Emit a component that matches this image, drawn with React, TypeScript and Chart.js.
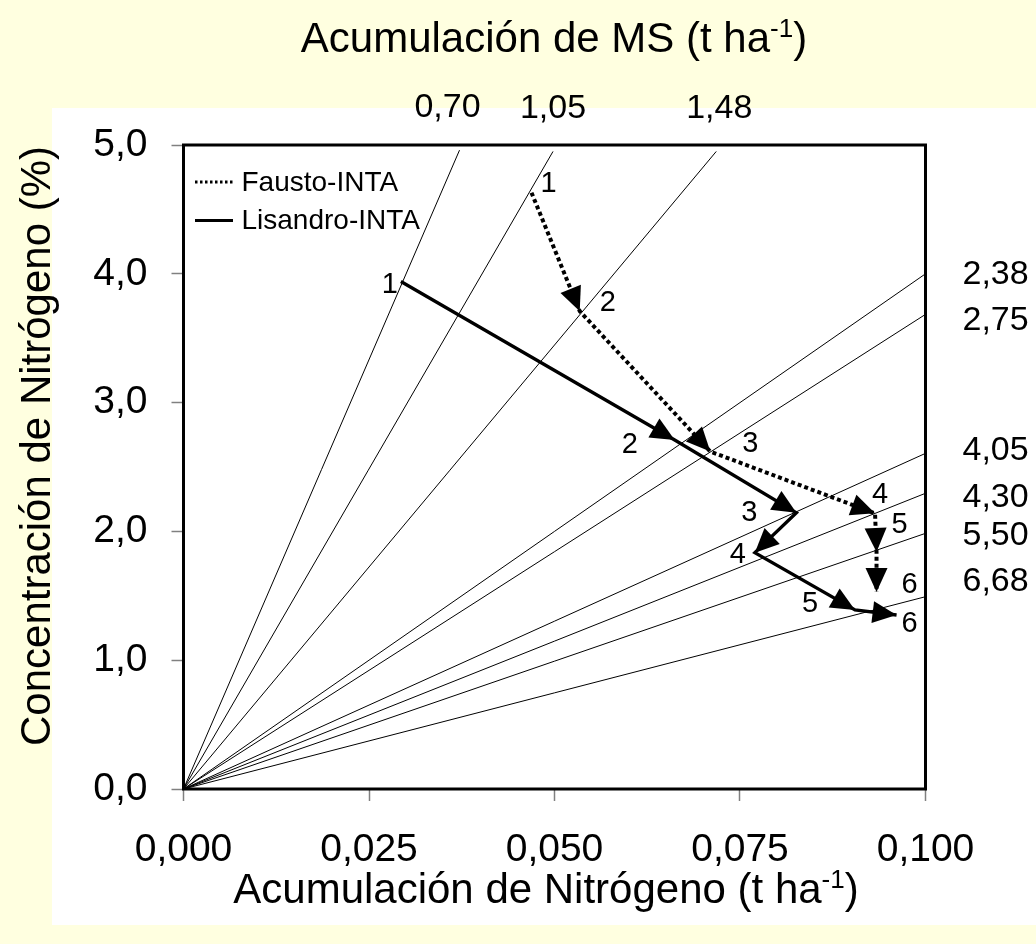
import React, { useEffect, useRef } from 'react';
import { Chart, registerables } from 'chart.js';

Chart.register(...registerables);

const FONT = '"Liberation Sans", Arial, sans-serif';

// Axis ticks
const xTicks = [0, 0.025, 0.05, 0.075, 0.1];
const yTicks = [0, 1, 2, 3, 4, 5];

// Dry-matter (MS) isolines, drawn from the origin to their end point
const msLabels = ['0,70', '1,05', '1,48', '2,38', '2,75', '4,05', '4,30', '5,50', '6,68'];
const msLineEndX = [0.0372, 0.0498, 0.0718, 0.1, 0.1, 0.1, 0.1, 0.1, 0.1];
const msLineEndY = [4.96, 4.95, 4.95, 4.0, 3.685, 2.606, 2.296, 1.985, 1.493];

// Series (N accumulation t/ha, N concentration %)
const seriesNames = ['Fausto-INTA', 'Lisandro-INTA'];
const stageLabels = ['1', '2', '3', '4', '5', '6'];
const faustoX = [0.0469, 0.0534, 0.071, 0.0932, 0.0934, 0.0934];
const faustoY = [4.63, 3.71, 2.62, 2.14, 1.84, 1.53];
const lisandroX = [0.0293, 0.0662, 0.0826, 0.077, 0.0905, 0.0961];
const lisandroY = [3.94, 2.71, 2.145, 1.835, 1.39, 1.351];

// Titles (main text, superscript, tail)
const topTitle = ['Acumulación de MS (t ha', '-1', ')'];
const bottomTitle = ['Acumulación de Nitrógeno (t ha', '-1', ')'];
const yTitle = 'Concentración de Nitrógeno (%)';

// Styling offsets (pixels)
const faustoLabelOffsets = [[17, -9], [28, -8], [40, -8], [5, -18], [23, -27], [33, -7]];
const lisandroLabelOffsets = [[-11, 3], [-45, 5], [-47, 0], [-17, 2], [-45, -6], [13, 9]];
const msLabelOffsets = [[-12, -43], [0, -43], [3, -43], [37, 1], [37, 6], [37, -3], [37, 4], [37, 2], [37, -15]];

const fmtComma = (v: number, d: number) => v.toFixed(d).replace('.', ',');

function drawSupText(ctx: CanvasRenderingContext2D, parts: string[], cx: number, baseY: number, size: number) {
  const sup = size * 0.62;
  ctx.font = `${size}px ${FONT}`;
  const w0 = ctx.measureText(parts[0]).width;
  const w2 = ctx.measureText(parts[2]).width;
  ctx.font = `${sup}px ${FONT}`;
  const w1 = ctx.measureText(parts[1]).width;
  let x = cx - (w0 + w1 + w2) / 2;
  ctx.textAlign = 'left';
  ctx.textBaseline = 'alphabetic';
  ctx.font = `${size}px ${FONT}`;
  ctx.fillText(parts[0], x, baseY);
  x += w0;
  ctx.font = `${sup}px ${FONT}`;
  ctx.fillText(parts[1], x, baseY - size * 0.36);
  x += w1;
  ctx.font = `${size}px ${FONT}`;
  ctx.fillText(parts[2], x, baseY);
}

const decorPlugin = {
  id: 'decor',
  beforeDraw(chart: any) {
    const ctx = chart.ctx as CanvasRenderingContext2D;
    ctx.save();
    ctx.fillStyle = '#FFFFE0';
    ctx.fillRect(0, 0, chart.width, chart.height);
    ctx.fillStyle = '#FFFFFF';
    ctx.fillRect(52, 108, chart.width - 52, 925 - 108);
    ctx.restore();
  },
  afterDatasetsDraw(chart: any) {
    const ctx = chart.ctx as CanvasRenderingContext2D;
    const { left, top, right, bottom } = chart.chartArea;
    ctx.save();
    // frame
    ctx.strokeStyle = '#000';
    ctx.lineWidth = 3;
    ctx.strokeRect(left, top, right - left, bottom - top);

    ctx.fillStyle = '#000';
    chart.data.datasets.forEach((ds: any, di: number) => {
      const meta = chart.getDatasetMeta(di);
      if (ds.arrows) {
        const L = 24;
        const W = 11;
        for (let i = 1; i < meta.data.length; i++) {
          const p0 = meta.data[i - 1];
          const p1 = meta.data[i];
          const a = Math.atan2(p1.y - p0.y, p1.x - p0.x);
          const c = Math.cos(a);
          const s = Math.sin(a);
          ctx.beginPath();
          ctx.moveTo(p1.x, p1.y);
          ctx.lineTo(p1.x - L * c + W * s, p1.y - L * s - W * c);
          ctx.lineTo(p1.x - L * c - W * s, p1.y - L * s + W * c);
          ctx.closePath();
          ctx.fill();
        }
      }
      if (ds.pointLabelOffsets) {
        ctx.font = `29px ${FONT}`;
        ctx.textAlign = 'center';
        ctx.textBaseline = 'middle';
        meta.data.forEach((p: any, i: number) => {
          const o = ds.pointLabelOffsets[i];
          ctx.fillText(stageLabels[i], p.x + o[0], p.y + o[1]);
        });
      }
      if (ds.msIndex !== undefined) {
        const i = ds.msIndex;
        const end = meta.data[1];
        const o = msLabelOffsets[i];
        ctx.font = `34px ${FONT}`;
        ctx.textBaseline = 'middle';
        ctx.textAlign = i < 3 ? 'center' : 'left';
        ctx.fillText(msLabels[i], end.x + o[0], end.y + o[1]);
      }
    });

    // legend
    const lx = left + 11.5;
    const ly1 = top + 37;
    const ly2 = top + 75.5;
    ctx.strokeStyle = '#000';
    ctx.lineWidth = 3;
    ctx.setLineDash([2.5, 2.5]);
    ctx.beginPath();
    ctx.moveTo(lx, ly1);
    ctx.lineTo(lx + 38, ly1);
    ctx.stroke();
    ctx.setLineDash([]);
    ctx.beginPath();
    ctx.moveTo(lx, ly2);
    ctx.lineTo(lx + 38, ly2);
    ctx.stroke();
    ctx.font = `28px ${FONT}`;
    ctx.textAlign = 'left';
    ctx.textBaseline = 'middle';
    ctx.fillText(seriesNames[0], lx + 46.5, ly1 + 1);
    ctx.fillText(seriesNames[1], lx + 46.5, ly2 + 1);

    // titles
    drawSupText(ctx, topTitle, 554, 52, 42);
    drawSupText(ctx, bottomTitle, 546, 903, 42);
    ctx.translate(50, 446);
    ctx.rotate(-Math.PI / 2);
    ctx.font = `42px ${FONT}`;
    ctx.textAlign = 'center';
    ctx.textBaseline = 'alphabetic';
    ctx.fillText(yTitle, 0, 0);
    ctx.restore();
  },
};

export default function App() {
  const ref = useRef<HTMLCanvasElement>(null);
  useEffect(() => {
    const canvas = ref.current!;
    const radial = msLabels.map((lab, i) => ({
      label: 'MS ' + lab,
      data: [{ x: 0, y: 0 }, { x: msLineEndX[i], y: msLineEndY[i] }],
      showLine: true,
      borderColor: '#000',
      borderWidth: 1,
      pointRadius: 0,
      fill: false,
      msIndex: i,
    }));
    const fausto = {
      label: seriesNames[0],
      data: faustoX.map((x, i) => ({ x, y: faustoY[i] })),
      showLine: true,
      borderColor: '#000',
      borderWidth: 4,
      borderDash: [4, 3],
      pointRadius: 0,
      fill: false,
      arrows: true,
      pointLabelOffsets: faustoLabelOffsets,
    };
    const lisandro = {
      label: seriesNames[1],
      data: lisandroX.map((x, i) => ({ x, y: lisandroY[i] })),
      showLine: true,
      borderColor: '#000',
      borderWidth: 3.3,
      pointRadius: 0,
      fill: false,
      arrows: true,
      pointLabelOffsets: lisandroLabelOffsets,
    };
    const chart = new Chart(canvas, {
      type: 'scatter',
      data: { datasets: [...radial, fausto, lisandro] as any },
      options: {
        responsive: false,
        animation: false,
        events: [],
        layout: { padding: { left: 0, top: 145, right: 1036 - 925.5, bottom: 0 } },
        plugins: { legend: { display: false }, tooltip: { enabled: false }, title: { display: false } },
        scales: {
          x: {
            type: 'linear',
            min: 0,
            max: 0.1,
            afterBuildTicks: (s: any) => {
              s.ticks = xTicks.map((v) => ({ value: v }));
            },
            afterFit: (s: any) => {
              s.height = 944 - 789;
            },
            ticks: {
              callback: (v: any) => fmtComma(Number(v), 3),
              font: { family: FONT, size: 39 },
              color: '#000',
              padding: 26,
              maxRotation: 0,
              autoSkip: false,
            },
            grid: { drawOnChartArea: false, drawTicks: true, tickLength: 12, tickColor: '#808080', tickWidth: 1.5, color: '#808080' },
            border: { display: false },
          },
          y: {
            type: 'linear',
            min: 0,
            max: 5,
            afterBuildTicks: (s: any) => {
              s.ticks = yTicks.map((v) => ({ value: v }));
            },
            afterFit: (s: any) => {
              s.width = 183.5;
            },
            ticks: {
              callback: (v: any) => fmtComma(Number(v), 1),
              font: { family: FONT, size: 39 },
              color: '#000',
              padding: 24,
              autoSkip: false,
            },
            grid: { drawOnChartArea: false, drawTicks: true, tickLength: 12, tickColor: '#808080', tickWidth: 1.5, color: '#808080' },
            border: { display: false },
          },
        },
      } as any,
      plugins: [decorPlugin],
    });
    return () => chart.destroy();
  }, []);
  return (
    <div style={{ position: 'absolute', left: 0, top: 0, width: 1036, height: 944 }}>
      <canvas ref={ref} width={1036} height={944} style={{ display: 'block' }} />
    </div>
  );
}
